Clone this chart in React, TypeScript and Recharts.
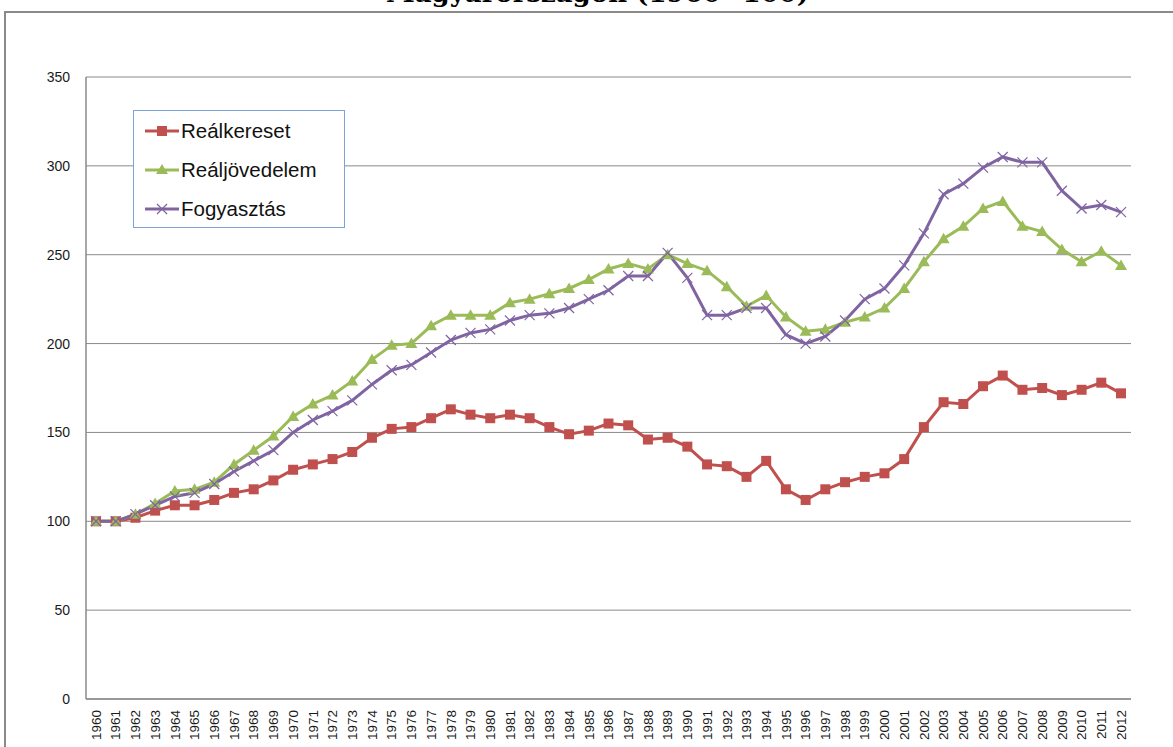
import React from "react";
import { LineChart, Line, XAxis, YAxis, CartesianGrid } from "recharts";

const years = [
  "1960","1961","1962","1963","1964","1965","1966","1967","1968","1969",
  "1970","1971","1972","1973","1974","1975","1976","1977","1978","1979",
  "1980","1981","1982","1983","1984","1985","1986","1987","1988","1989",
  "1990","1991","1992","1993","1994","1995","1996","1997","1998","1999",
  "2000","2001","2002","2003","2004","2005","2006","2007","2008","2009",
  "2010","2011","2012",
];

const realkereset = [
  100,100,102,106,109,109,112,116,118,123,
  129,132,135,139,147,152,153,158,163,160,
  158,160,158,153,149,151,155,154,146,147,
  142,132,131,125,134,118,112,118,122,125,
  127,135,153,167,166,176,182,174,175,171,
  174,178,172,
];

const realjovedelem = [
  100,100,104,110,117,118,122,132,140,148,
  159,166,171,179,191,199,200,210,216,216,
  216,223,225,228,231,236,242,245,242,250,
  245,241,232,221,227,215,207,208,212,215,
  220,231,246,259,266,276,280,266,263,253,
  246,252,244,
];

const fogyasztas = [
  100,100,104,109,114,116,121,128,134,140,
  150,157,162,168,177,185,188,195,202,206,
  208,213,216,217,220,225,230,238,238,251,
  237,216,216,220,220,205,200,204,213,225,
  231,244,262,284,290,299,305,302,302,286,
  276,278,274,
];

const yTicks = [0, 50, 100, 150, 200, 250, 300, 350];

const seriesNames = ["Reálkereset", "Reáljövedelem", "Fogyasztás"];
const RED = "#C0504D";
const GREEN = "#9BBB59";
const PURPLE = "#8064A2";

const data = years.map((y, i) => ({
  year: y,
  realkereset: realkereset[i],
  realjovedelem: realjovedelem[i],
  fogyasztas: fogyasztas[i],
}));

const SquareDot = (props: any) => {
  const { cx, cy, index } = props;
  if (cx == null || cy == null) return null;
  return <rect key={`s${index}`} x={cx - 5} y={cy - 5} width={10} height={10} fill={RED} />;
};

const TriangleDot = (props: any) => {
  const { cx, cy, index } = props;
  if (cx == null || cy == null) return null;
  const s = 6;
  return (
    <polygon
      key={`t${index}`}
      points={`${cx},${cy - s} ${cx + s},${cy + s * 0.75} ${cx - s},${cy + s * 0.75}`}
      fill={GREEN}
    />
  );
};

const CrossDot = (props: any) => {
  const { cx, cy, index } = props;
  if (cx == null || cy == null) return null;
  const s = 5;
  return (
    <g key={`x${index}`}>
      <line x1={cx - s} y1={cy - s} x2={cx + s} y2={cy + s} stroke={PURPLE} strokeWidth={1.2} />
      <line x1={cx - s} y1={cy + s} x2={cx + s} y2={cy - s} stroke={PURPLE} strokeWidth={1.2} />
    </g>
  );
};

const XTick = (props: any) => {
  const { x, y, payload } = props;
  return (
    <g transform={`translate(${x},${y})`}>
      <text
        transform="rotate(-90)"
        textAnchor="end"
        dy="0.35em"
        fontSize={13.5}
        fontFamily="'Liberation Sans', Arial, sans-serif"
        fill="#1a1a1a"
      >
        {payload.value}
      </text>
    </g>
  );
};

const legendIcon = (kind: number) => {
  const colors = [RED, GREEN, PURPLE];
  const c = colors[kind];
  return (
    <svg width={36} height={14} style={{ display: "block" }}>
      <line x1={1} y1={7} x2={35} y2={7} stroke={c} strokeWidth={3} />
      {kind === 0 && <rect x={13} y={2} width={10} height={10} fill={c} />}
      {kind === 1 && <polygon points="18,1 24,11 12,11" fill={c} />}
      {kind === 2 && (
        <g>
          <line x1={13} y1={2} x2={23} y2={12} stroke={c} strokeWidth={1.2} />
          <line x1={13} y1={12} x2={23} y2={2} stroke={c} strokeWidth={1.2} />
        </g>
      )}
    </svg>
  );
};

const LegendBox = () => (
  <div
    style={{
      position: "absolute",
      left: 133,
      top: 110,
      width: 212,
      height: 118,
      border: "1.5px solid #7BA3D3",
      background: "#fff",
      boxSizing: "border-box",
      paddingTop: 0,
    }}
  >
    {seriesNames.map((n, i) => (
      <div
        key={n}
        style={{
          display: "flex",
          alignItems: "center",
          height: 39,
          paddingLeft: 10,
        }}
      >
        {legendIcon(i)}
        <span
          style={{
            fontFamily: "'Liberation Sans', Arial, sans-serif",
            fontSize: 20.5,
            color: "#111",
            marginLeft: 1,
          }}
        >
          {n}
        </span>
      </div>
    ))}
  </div>
);

export default function App() {
  return (
    <div
      style={{
        position: "absolute",
        left: 0,
        top: 0,
        width: 1173,
        height: 747,
        overflow: "hidden",
        background: "#fff",
      }}
    >
      <div
        style={{
          position: "absolute",
          left: 4,
          top: 11,
          width: 1300,
          height: 900,
          border: "2px solid #8A8A8A",
        }}
      />
      <div
        style={{
          position: "absolute",
          left: 0,
          width: 1195,
          top: -23,
          textAlign: "center",
          fontFamily: "'DejaVu Serif', serif",
          fontWeight: "bold",
          fontSize: 26,
          lineHeight: "32px",
          color: "#000",
          whiteSpace: "nowrap",
        }}
      >
        Magyarországon (1960=100)
      </div>
      <div style={{ position: "absolute", left: 0, top: 0 }}>
        <LineChart
          width={1173}
          height={747}
          data={data}
          margin={{ top: 77, right: 42, left: 26, bottom: 0 }}
        >
          <CartesianGrid vertical={false} stroke="#8A8A8A" strokeWidth={1} />
          <XAxis
            dataKey="year"
            interval={0}
            height={48}
            padding={{ left: 10, right: 10 }}
            tickLine={false}
            tickSize={0}
            tickMargin={11}
            axisLine={{ stroke: "#8A8A8A", strokeWidth: 1.5 }}
            tick={<XTick />}
          />
          <YAxis
            width={60}
            domain={[0, 350]}
            ticks={yTicks}
            interval={0}
            tickLine={false}
            tickSize={0}
            tickMargin={16}
            axisLine={{ stroke: "#8A8A8A", strokeWidth: 1.5 }}
            tick={{
              fontSize: 14,
              fontFamily: "'Liberation Sans', Arial, sans-serif",
              fill: "#1a1a1a",
            }}
          />
          <Line
            type="linear"
            dataKey="realkereset"
            name={seriesNames[0]}
            stroke={RED}
            strokeWidth={3}
            dot={<SquareDot />}
            activeDot={false}
            isAnimationActive={false}
          />
          <Line
            type="linear"
            dataKey="realjovedelem"
            name={seriesNames[1]}
            stroke={GREEN}
            strokeWidth={3}
            dot={<TriangleDot />}
            activeDot={false}
            isAnimationActive={false}
          />
          <Line
            type="linear"
            dataKey="fogyasztas"
            name={seriesNames[2]}
            stroke={PURPLE}
            strokeWidth={3}
            dot={<CrossDot />}
            activeDot={false}
            isAnimationActive={false}
          />
        </LineChart>
      </div>
      <LegendBox />
    </div>
  );
}
